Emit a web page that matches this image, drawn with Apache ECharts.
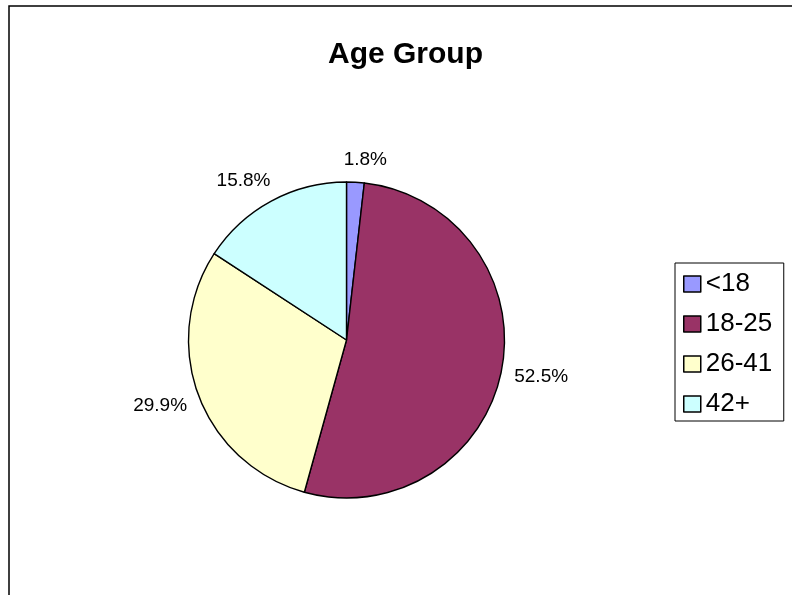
<!DOCTYPE html>
<html>
<head>
<meta charset="utf-8">
<script src="https://cdn.jsdelivr.net/npm/echarts@6/dist/echarts.min.js"></script>
<style>
html, body { margin: 0; padding: 0; background: #fff; }
#main { width: 792px; height: 595px; }
</style>
</head>
<body>
<div id="main"></div>
<script>
// age groups and their share (%)
var groups = ['<18', '18-25', '26-41', '42+'];
var shares = [1.8, 52.5, 29.9, 15.8];
var colors = ['#9999FF', '#993366', '#FFFFCC', '#CCFFFF'];

var pieCenter = [346.5, 340];
var pieRadius = 158;
var labelGap = 13;

var myChart = echarts.init(document.getElementById('main'));

var pieData = [];
var total = 0;
for (var i = 0; i < groups.length; i++) {
    total += shares[i];
    pieData.push({ name: groups[i], value: shares[i], itemStyle: { color: colors[i] } });
}

// excel-like label placement: just off the rim, box pushed outward along the mid angle
function midDir(idx) {
    var before = 0;
    for (var k = 0; k < idx; k++) before += shares[k];
    var a = (before + shares[idx] / 2) / total * Math.PI * 2;
    return [Math.sin(a), -Math.cos(a)];
}
function sgnPow(v, p) { return (v < 0 ? -1 : 1) * Math.pow(Math.abs(v), p); }

var option = {
    backgroundColor: '#fff',
    animation: false,
    textStyle: { fontFamily: 'Liberation Sans, Arial, sans-serif' },
    title: {
        text: 'Age Group',
        left: 328,
        top: 40,
        padding: 0,
        textStyle: { fontSize: 30, fontWeight: 'bold', color: '#000', fontFamily: 'Liberation Sans, Arial, sans-serif' }
    },
    legend: {
        orient: 'vertical',
        left: 675,
        top: 263,
        padding: [8, 10, 4, 8],
        itemGap: 14,
        itemWidth: 17,
        itemHeight: 16,
        itemTextGap: 6,
        borderColor: '#000',
        borderWidth: 1,
        icon: 'rect',
        itemStyle: { borderColor: '#000', borderWidth: 1.5 },
        textStyle: { fontSize: 26, lineHeight: 25, color: '#000', width: 68 },
        data: groups
    },
    graphic: [{
        type: 'rect',
        shape: { x: 9, y: 6, width: 820, height: 620 },
        style: { fill: null, stroke: '#000', lineWidth: 1.5 },
        silent: true
    }],
    series: [{
        type: 'pie',
        center: pieCenter,
        radius: pieRadius,
        startAngle: 90,
        clockwise: true,
        itemStyle: { borderColor: '#000', borderWidth: 1.4 },
        label: {
            show: true,
            position: 'outside',
            fontSize: 19,
            color: '#000',
            formatter: function (p) { return p.value.toFixed(1) + '%'; }
        },
        labelLine: { show: false, length: 6, length2: 0 },
        labelLayout: function (params) {
            var d = midDir(params.dataIndex);
            var w = params.labelRect.width, h = params.labelRect.height;
            var rr = pieRadius + labelGap;
            return {
                x: pieCenter[0] + rr * d[0] + w / 2 * sgnPow(d[0], 0.3),
                y: pieCenter[1] + rr * d[1] + h / 2 * sgnPow(d[1], 0.5),
                align: 'center',
                verticalAlign: 'middle'
            };
        },
        emphasis: { disabled: true },
        data: pieData
    }]
};

myChart.setOption(option);
</script>
</body>
</html>
